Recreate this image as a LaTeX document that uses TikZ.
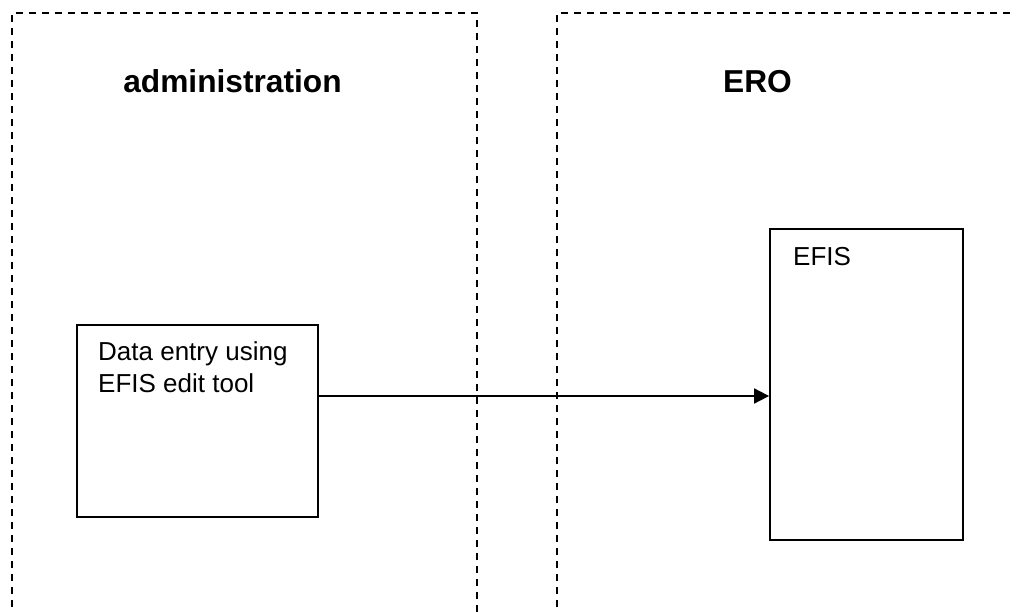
\documentclass[tikz,border=0pt]{standalone}
\usepackage{fontspec}
\setmainfont{Liberation Sans}
\usetikzlibrary{arrows.meta}
\begin{document}
\begin{tikzpicture}[x=1pt,y=-1pt,
  lane/.style={line width=1.9pt,dash pattern=on 7pt off 6pt},
  boxstyle/.style={draw,line width=1.8pt,inner sep=0pt},
  title/.style={font=\fontsize{31.7}{36}\selectfont\bfseries,inner sep=0pt,anchor=base},
  label/.style={font=\fontsize{26}{31}\selectfont,inner sep=0pt,anchor=base west},
  flow/.style={line width=1.8pt,-{Triangle[length=15pt,width=15pt]}}]
\useasboundingbox (0,0) rectangle (1016,612);
% swimlanes
\draw[lane] (12,620) -- (12,13) -- (477,13) -- (477,620);
\draw[lane] (557,620) -- (557,13) -- (1030,13);
\node[title] (t1) at (232.5,93) {administration};
\node[title] (t2) at (757.5,93) {ERO};
% boxes
\node[boxstyle,minimum width=241pt,minimum height=192pt] (b1) at (197.5,421) {};
\node[boxstyle,minimum width=193pt,minimum height=311pt] (b2) at (866.5,384.5) {};
\node[label] (l1) at (98,360) {Data entry using};
\node[label] (l2) at (98,392) {EFIS edit tool};
\node[label] (l3) at (793,265) {EFIS};
% arrow
\coordinate (ay) at (0,396);
\draw[flow] (b1.east |- ay) -- (b2.west |- ay);
\end{tikzpicture}
\end{document}
